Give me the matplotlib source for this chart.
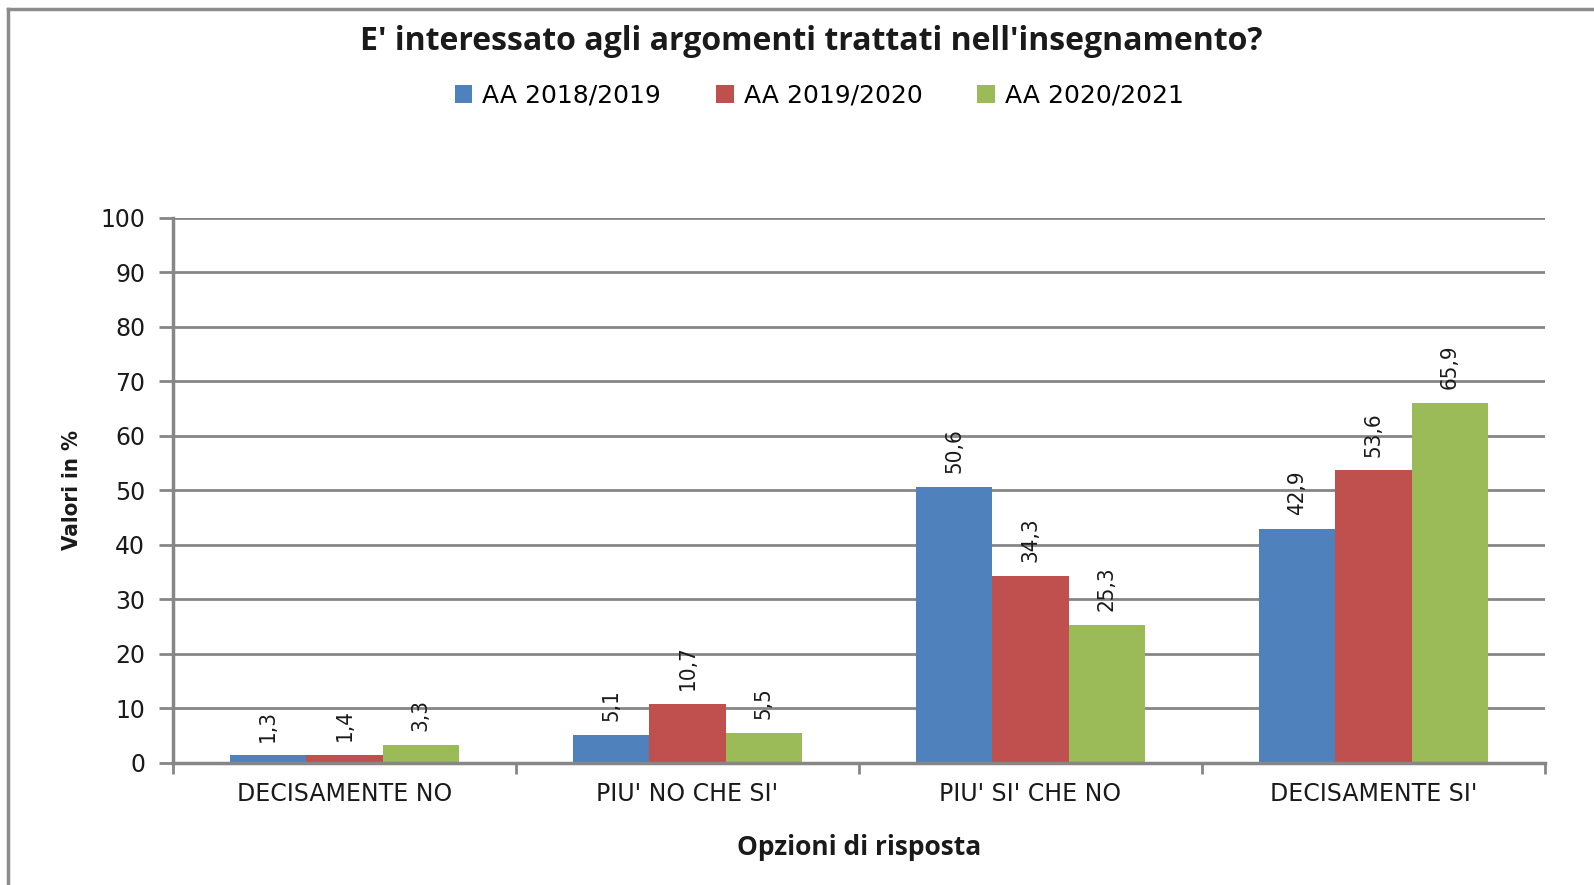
import numpy as np
import matplotlib
matplotlib.use("Agg")
import matplotlib.pyplot as plt
from matplotlib.lines import Line2D
from matplotlib.patches import Patch

# data
categories = ["DECISAMENTE NO", "PIU' NO CHE SI'", "PIU' SI' CHE NO", "DECISAMENTE SI'"]
series = ["AA 2018/2019", "AA 2019/2020", "AA 2020/2021"]
aa_2018 = [1.3, 5.1, 50.6, 42.9]
aa_2019 = [1.4, 10.7, 34.3, 53.6]
aa_2020 = [3.3, 5.5, 25.3, 65.9]
colors = ["#4F81BD", "#C0504D", "#9BBB59"]
yticks = [0, 10, 20, 30, 40, 50, 60, 70, 80, 90, 100]

grid_col = "#868686"
txt_col = "#1a1a1a"

fig = plt.figure(figsize=(15.94, 8.85), dpi=100)
ax = fig.add_axes([0.1085, 0.1384, 0.8608, 0.6158])

x = np.arange(len(categories))
w = 1 / 4.5
for i, (vals, name) in enumerate(zip([aa_2018, aa_2019, aa_2020], series)):
    bars = ax.bar(x + (i - 1) * w, vals, width=w, color=colors[i], label=name, zorder=3)
    ax.bar_label(bars, labels=[f"{v:.1f}".replace(".", ",") for v in vals],
                 rotation=90, padding=10, fontsize=16, color=txt_col,
                 family="DejaVu Sans", fontstretch="condensed")

ax.set_xlim(-0.5, len(categories) - 0.5)
ax.set_ylim(0, 100)
ax.set_yticks(yticks)
ax.set_yticklabels([str(t) for t in yticks], fontsize=17, color=txt_col, family="DejaVu Sans")
ax.set_xticks(x)
ax.set_xticklabels(categories, fontsize=17, color=txt_col, family="DejaVu Sans")
ax.set_xticks(np.arange(-0.5, len(categories)), minor=True)
ax.tick_params(axis="x", which="major", length=0, pad=14)
ax.tick_params(axis="x", which="minor", length=8, width=2, color=grid_col)
ax.tick_params(axis="y", length=10, width=2, color=grid_col, pad=10)

ax.yaxis.grid(True, color=grid_col, linewidth=2)
ax.set_axisbelow(True)
for s in ["top", "right"]:
    ax.spines[s].set_visible(False)
for s in ["left", "bottom"]:
    ax.spines[s].set_color(grid_col)
    ax.spines[s].set_linewidth(2.5)
    ax.spines[s].set_zorder(4)

ax.set_xlabel("Opzioni di risposta", fontsize=19, fontweight="bold", color=txt_col,
              family=["Open Sans", "DejaVu Sans"], labelpad=20)
ax.set_ylabel("Valori in %", fontsize=16, fontweight="bold", color=txt_col,
              family="DejaVu Sans", fontstretch="condensed", labelpad=13)

fig.text(0.509, 0.9535, "E' interessato agli argomenti trattati nell'insegnamento?",
         ha="center", va="center", fontsize=23, fontweight="bold", color=txt_col,
         family=["Open Sans", "DejaVu Sans"])

handles = [Patch(facecolor=c, edgecolor="none") for c in colors]
fig.legend(handles, series, loc="center", bbox_to_anchor=(0.514, 0.892), ncol=3,
           frameon=False, prop={"family": "DejaVu Sans", "size": 18},
           handlelength=0.7, handleheight=0.7, handletextpad=0.4, columnspacing=2.2)

# outer chart border (left and top edges visible in the crop)
fig.add_artist(Line2D([8 / 1594, 8 / 1594], [0.0, 1 - 9 / 885], transform=fig.transFigure,
                      color="#8c8c8c", linewidth=2.5))
fig.add_artist(Line2D([8 / 1594, 1.0], [1 - 9 / 885, 1 - 9 / 885], transform=fig.transFigure,
                      color="#8c8c8c", linewidth=2.5))

fig.savefig("out.png", dpi=100, facecolor="white")
